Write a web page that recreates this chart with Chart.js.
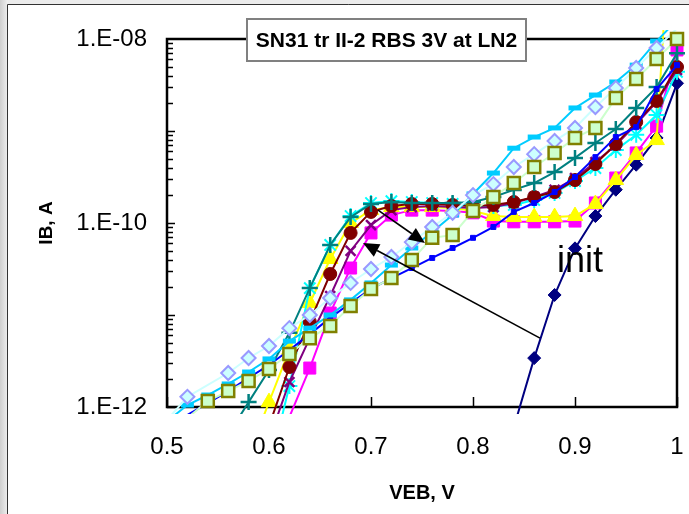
<!DOCTYPE html>
<html>
<head>
<meta charset="utf-8">
<script src="https://cdn.jsdelivr.net/npm/chart.js@4/dist/chart.umd.min.js"></script>
<style>
  html, body { margin: 0; padding: 0; background: #fff; overflow: hidden; }
  canvas { display: block; }
</style>
</head>
<body>
<canvas id="c" width="689" height="514"></canvas>
<script>
// Emitter-base voltage sweep, V (0.50 ... 1.00 in 0.02 V steps)
const veb = [0.50, 0.52, 0.54, 0.56, 0.58, 0.60, 0.62, 0.64, 0.66, 0.68,
             0.70, 0.72, 0.74, 0.76, 0.78, 0.80, 0.82, 0.84, 0.86, 0.88,
             0.90, 0.92, 0.94, 0.96, 0.98, 1.00];

// Base current IB, A, one array per measurement run
const ibInit = [null, null, null, null, null, null, null, null, null, null,
                null, null, null, null, null, null, null, 6.0e-13, 3.4e-12, 1.65e-11,
                5.3e-11, 1.19e-10, 2.3e-10, 4.3e-10, 8.4e-10, 3.3e-9];
const ibMagenta = [null, null, null, null, null, null, 7.8e-13, 2.65e-12, 1.05e-11, 3.24e-11,
                   7.8e-11, 1.22e-10, 1.38e-10, 1.38e-10, 1.35e-10, 1.29e-10, 1.05e-10, 1.03e-10, 1.03e-10, 1.03e-10,
                   1.05e-10, 1.65e-10, 3.08e-10, 5.77e-10, 1.13e-9, 7.6e-9];
const ibYellow = [null, null, null, null, 3.0e-13, 1.13e-12, 4.2e-12, 1.35e-11, 4.06e-11, 1.0e-10,
                  1.38e-10, 1.49e-10, 1.49e-10, 1.49e-10, 1.46e-10, 1.35e-10, 1.19e-10, 1.16e-10, 1.16e-10, 1.16e-10,
                  1.19e-10, 1.61e-10, 2.93e-10, 5.48e-10, 7.97e-10, 3.0e-6];
const ibCyan = [null, null, null, null, null, 2.1e-13, 1.69e-12, 1.96e-11, 5.77e-11, 1.19e-10,
                1.65e-10, 1.73e-10, 1.69e-10, 1.65e-10, 1.61e-10, 1.53e-10, 1.53e-10, 1.57e-10, 1.78e-10, 2.12e-10,
                2.86e-10, 3.96e-10, 6.2e-10, 9.1e-10, 1.49e-9, 4.4e-9];
const ibPurple = [null, null, null, null, null, 4.4e-13, 1.87e-12, 5.6e-12, 1.61e-11, 4.97e-11,
                  9.5e-11, 1.38e-10, 1.49e-10, 1.53e-10, 1.49e-10, 1.46e-10, 1.49e-10, 1.65e-10, 1.92e-10, 2.29e-10,
                  3.08e-10, 4.6e-10, 7.0e-10, 1.19e-9, 2.07e-9, 4.6e-9];
const ibMaroon = [null, null, null, null, null, 6.2e-13, 2.72e-12, 8.4e-12, 2.79e-11, 7.8e-11,
                  1.32e-10, 1.53e-10, 1.61e-10, 1.61e-10, 1.57e-10, 1.53e-10, 1.57e-10, 1.69e-10, 1.92e-10, 2.17e-10,
                  2.93e-10, 4.38e-10, 7.2e-10, 1.25e-9, 2.12e-9, 4.96e-9];
const ibTeal = [null, null, null, 5.0e-13, 1.13e-12, 2.52e-12, 6.4e-12, 1.96e-11, 5.77e-11, 1.16e-10,
                1.61e-10, 1.69e-10, 1.65e-10, 1.65e-10, 1.65e-10, 1.69e-10, 1.92e-10, 2.29e-10, 2.72e-10, 3.58e-10,
                5.1e-10, 7.4e-10, 1.05e-9, 1.78e-9, 3.0e-9, 7.0e-9];
const ibBlue = [null, 8.2e-13, 1.1e-12, 1.49e-12, 2.07e-12, 2.86e-12, 4.17e-12, 6.2e-12, 9.3e-12, 1.35e-11,
                1.92e-11, 2.52e-11, 3.24e-11, 4.17e-11, 5.35e-11, 6.9e-11, 9.05e-11, 1.32e-10, 1.65e-10, 2.17e-10,
                3.16e-10, 5.2e-10, 8.6e-10, 1.1e-9, 2.86e-9, 5.2e-9];
const ibSky = [7.0e-13, 1.05e-12, 1.35e-12, 1.78e-12, 2.4e-12, 3.33e-12, 5.2e-12, 7.2e-12, 1.0e-11, 1.46e-11,
               2.23e-11, 3.49e-11, 5.35e-11, 7.98e-11, 1.22e-10, 2.07e-10, 3.49e-10, 6.5e-10, 8.6e-10, 1.08e-9,
               1.78e-9, 2.46e-9, 3.41e-9, 5.2e-9, 9.5e-9, 1.6e-8];
const ibDiamond = [7.2e-13, 1.29e-12, null, 2.34e-12, 3.41e-12, 4.6e-12, 7.2e-12, 1.0e-11, 1.53e-11, 2.23e-11,
                   3.16e-11, 4.27e-11, 6.2e-11, 9.05e-11, 1.29e-10, 2.01e-10, 2.65e-10, 4.06e-10, 5.6e-10, 7.8e-10,
                   1.08e-9, 1.82e-9, 2.93e-9, 4.84e-9, 7.98e-9, 1.3e-8];
const ibSquare = [null, 7.6e-13, 1.16e-12, 1.49e-12, 1.92e-12, 2.59e-12, 3.77e-12, 5.6e-12, 7.6e-12, 1.25e-11,
                  1.92e-11, 2.52e-11, 3.96e-11, 6.9e-11, 7.4e-11, 1.35e-10, 1.92e-10, 2.72e-10, 4.06e-10, 5.77e-10,
                  8.4e-10, 1.08e-9, 2.29e-9, 3.67e-9, 6.07e-9, 1.0e-8];

// Axis ranges and tick labels
const xMin = 0.5, xMax = 1.0;
const yMin = 1e-12, yMax = 1e-8;
const xTickValues = [0.5, 0.6, 0.7, 0.8, 0.9, 1.0];
const xTickLabels = ['0.5', '0.6', '0.7', '0.8', '0.9', '1'];
const yTickValues = [1e-12, 1e-10, 1e-8];
const yTickLabels = ['1.E-12', '1.E-10', '1.E-08'];

const chartTitle = 'SN31 tr II-2 RBS 3V at LN2';
const xTitle = 'VEB, V';
const yTitle = 'IB, A';

// Annotations in data units: the "init" note and its pointer arrows
const initNote = { text: 'init', x: 0.8824, y: 2.93e-11 };
const arrows = [
  { from: [0.7069, 1.38e-10], to: [0.7529, 6.07e-11] },
  { from: [0.8657, 5.6e-12], to: [0.6922, 6.07e-11] }
];

const FONT = '"Liberation Sans", Arial, Helvetica, sans-serif';

function points(values) {
  return veb.map((v, i) => ({ x: v, y: values[i] })).filter(p => p.y !== null);
}
function markerSize(r) {
  return ctx => {
    const p = ctx.raw;
    if (!p) return r;
    return (p.y >= yMin * 0.999 && p.y <= yMax * 1.001) ? r : 0;
  };
}
function series(values, o) {
  return {
    data: points(values),
    borderColor: o.line,
    borderWidth: o.lineWidth || 2,
    backgroundColor: o.fill,
    pointStyle: o.style,
    pointRadius: markerSize(o.radius),
    pointBackgroundColor: o.fill,
    pointBorderColor: o.edge,
    pointBorderWidth: o.edgeWidth,
    tension: 0,
    fill: false,
    clip: { left: 8, right: 8, top: 9, bottom: 7 }
  };
}

// First entry is painted last (on top)
const datasets = [
  series(ibSquare,  { line: '#CCFFCC', fill: '#CCFFCC', edge: '#808000', edgeWidth: 2.5, style: 'rect', radius: 8.5 }),
  series(ibDiamond, { line: '#CCFFFF', fill: '#CCFFFF', edge: '#9999FF', edgeWidth: 2, style: 'rectRot', radius: 7 }),
  series(ibSky,     { line: '#00CCFF', fill: '#00CCFF', edge: '#00CCFF', edgeWidth: 5, style: 'line', radius: 6.5 }),
  series(ibBlue,    { line: '#0000FF', fill: '#0000FF', edge: '#0000FF', edgeWidth: 1, style: 'rect', radius: 3.5 }),
  series(ibTeal,    { line: '#008080', fill: '#008080', edge: '#008080', edgeWidth: 2.5, style: 'cross', radius: 8 }),
  series(ibMaroon,  { line: '#800000', fill: '#800000', edge: '#800000', edgeWidth: 1, style: 'circle', radius: 6.5 }),
  series(ibPurple,  { line: '#800080', fill: '#800080', edge: '#800080', edgeWidth: 2.5, style: 'crossRot', radius: 7 }),
  series(ibCyan,    { line: '#00FFFF', fill: '#00FFFF', edge: '#00FFFF', edgeWidth: 2, style: 'star', radius: 8 }),
  series(ibYellow,  { line: '#FFFF00', fill: '#FFFF00', edge: '#FFFF00', edgeWidth: 1, style: 'triangle', radius: 9 }),
  series(ibMagenta, { line: '#FF00FF', fill: '#FF00FF', edge: '#FF00FF', edgeWidth: 1, style: 'rect', radius: 8.5 }),
  series(ibInit,    { line: '#000080', fill: '#000080', edge: '#000080', edgeWidth: 1, style: 'rectRot', radius: 6.5 })
];

const sheetPlugin = {
  id: 'sheet',
  beforeDraw(chart) {
    const { ctx, width: W, height: H } = chart;
    ctx.save();
    const g = ctx.createLinearGradient(0, 0, 8, 0);
    g.addColorStop(0, '#cfcfcf');
    g.addColorStop(1, '#f0f0f0');
    ctx.fillStyle = g;
    ctx.fillRect(0, 0, 8, H);
    ctx.fillStyle = '#ececec';
    ctx.fillRect(8, 0, W - 8, 5);
    ctx.fillStyle = '#ffffff';
    ctx.fillRect(8, 5, W - 8, H - 5);
    ctx.strokeStyle = '#333333';
    ctx.lineWidth = 1;
    ctx.beginPath();
    ctx.moveTo(7.5, H);
    ctx.lineTo(7.5, 4.5);
    ctx.lineTo(W, 4.5);
    ctx.stroke();
    ctx.restore();
  },
  beforeDatasetsDraw(chart) {
    const { ctx, chartArea: a, scales: { x, y } } = chart;
    ctx.save();
    ctx.strokeStyle = '#000';
    ctx.lineWidth = 1.5;
    ctx.beginPath();
    // inward log ticks on the value axis
    for (let e = -12; e < -8; e++) {
      for (let k = 1; k <= 9; k++) {
        const py = Math.round(y.getPixelForValue(k * Math.pow(10, e))) + 0.5;
        const len = k === 1 ? 8 : 6;
        ctx.moveTo(a.left, py);
        ctx.lineTo(a.left + len, py);
      }
    }
    // inward ticks on the voltage axis
    xTickValues.forEach(v => {
      const px = Math.round(x.getPixelForValue(v)) + 0.5;
      ctx.moveTo(px, a.bottom);
      ctx.lineTo(px, a.bottom - 10);
    });
    ctx.stroke();
    // plot frame
    ctx.lineWidth = 2.5;
    ctx.strokeRect(a.left, a.top, a.right - a.left, a.bottom - a.top);
    ctx.restore();
  },
  afterDatasetsDraw(chart) {
    const { ctx, chartArea: a, scales: { x, y } } = chart;
    ctx.save();
    // pointer arrows
    ctx.strokeStyle = '#000';
    ctx.fillStyle = '#000';
    ctx.lineWidth = 1.6;
    arrows.forEach(ar => {
      const x0 = x.getPixelForValue(ar.from[0]), y0 = y.getPixelForValue(ar.from[1]);
      const x1 = x.getPixelForValue(ar.to[0]), y1 = y.getPixelForValue(ar.to[1]);
      const ang = Math.atan2(y1 - y0, x1 - x0);
      const hl = 16, hw = 7;
      const bx = x1 - Math.cos(ang) * hl, by = y1 - Math.sin(ang) * hl;
      ctx.beginPath();
      ctx.moveTo(x0, y0);
      ctx.lineTo(bx, by);
      ctx.stroke();
      ctx.beginPath();
      ctx.moveTo(x1, y1);
      ctx.lineTo(bx - Math.sin(ang) * hw, by + Math.cos(ang) * hw);
      ctx.lineTo(bx + Math.sin(ang) * hw, by - Math.cos(ang) * hw);
      ctx.closePath();
      ctx.fill();
    });
    // "init" note
    ctx.font = '36px ' + FONT;
    ctx.textAlign = 'left';
    ctx.textBaseline = 'alphabetic';
    ctx.fillText(initNote.text, x.getPixelForValue(initNote.x), y.getPixelForValue(initNote.y));
    // boxed chart title
    const bx = a.left + 80, by = 19, bw = 279, bh = 42;
    ctx.fillStyle = '#fff';
    ctx.fillRect(bx, by, bw, bh);
    ctx.strokeStyle = '#808080';
    ctx.lineWidth = 2;
    ctx.strokeRect(bx, by, bw, bh);
    ctx.fillStyle = '#000';
    ctx.font = 'bold 21px ' + FONT;
    ctx.textAlign = 'center';
    ctx.textBaseline = 'middle';
    ctx.fillText(chartTitle, bx + bw / 2, by + bh / 2 + 1);
    ctx.restore();
  }
};

new Chart(document.getElementById('c'), {
  type: 'line',
  data: { datasets },
  plugins: [sheetPlugin],
  options: {
    responsive: false,
    animation: false,
    events: [],
    layout: { padding: { left: 8, top: 39, right: 12, bottom: 0 } },
    plugins: { legend: { display: false }, title: { display: false }, tooltip: { enabled: false } },
    scales: {
      x: {
        type: 'linear',
        position: 'bottom',
        min: xMin,
        max: xMax,
        grid: { display: false, drawTicks: false },
        border: { display: false },
        afterBuildTicks: s => { s.ticks = xTickValues.map(v => ({ value: v })); },
        afterFit: s => { s.height = 107; s.paddingLeft = 0; s.paddingRight = 0; },
        ticks: {
          autoSkip: false,
          maxRotation: 0,
          padding: 26,
          color: '#000',
          font: { family: FONT, size: 24 },
          callback: (v, i) => xTickLabels[i]
        },
        title: {
          display: true,
          text: xTitle,
          color: '#000',
          font: { family: FONT, size: 20, weight: 'bold' },
          padding: { top: 0, bottom: 9 }
        }
      },
      y: {
        type: 'logarithmic',
        position: 'left',
        min: yMin,
        max: yMax,
        grid: { display: false, drawTicks: false },
        border: { display: false },
        afterBuildTicks: s => { s.ticks = yTickValues.map(v => ({ value: v })); },
        afterFit: s => { s.width = 159; },
        ticks: {
          autoSkip: false,
          padding: 20,
          color: '#000',
          font: { family: FONT, size: 24 },
          callback: (v, i) => yTickLabels[i]
        },
        title: {
          display: true,
          text: yTitle,
          color: '#000',
          font: { family: FONT, size: 19, weight: 'bold' },
          padding: { top: 27, bottom: 0 }
        }
      }
    }
  }
});
</script>
</body>
</html>
